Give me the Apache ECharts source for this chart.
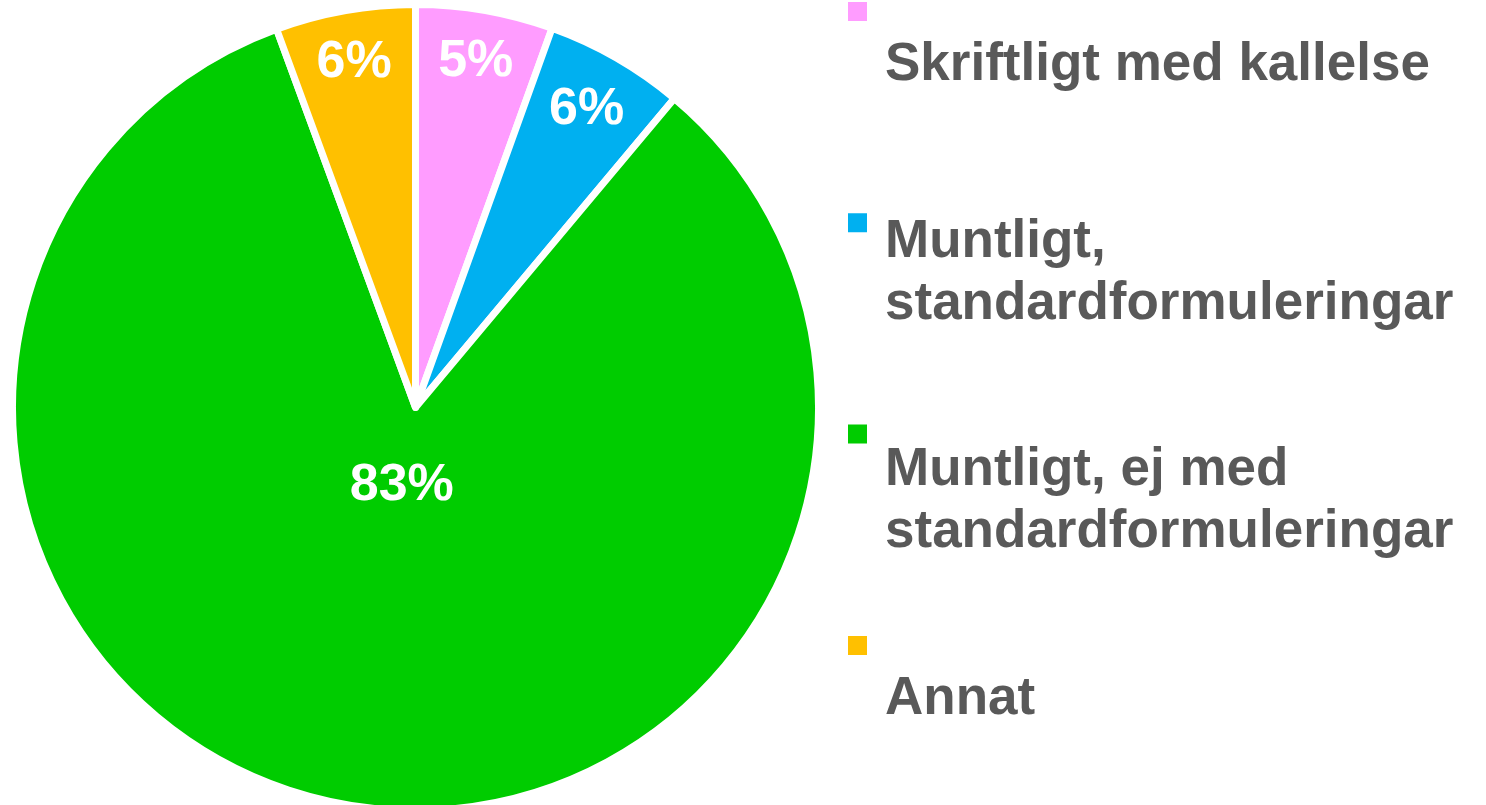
<!DOCTYPE html>
<html lang="sv">
<head>
    <meta charset="UTF-8">
    <title>Pie</title>
    <script src="https://cdn.jsdelivr.net/npm/echarts@6/dist/echarts.min.js"></script>
    <style>
        *{
            margin: 0;
            padding: 0;
        }
        html,body{
            width: 100%;
            height: 100%;
            background: #fff;
        }
        .main{
            width: 1486px;
            height: 805px;
        }
    </style>
</head>
<body>
<div class="main"></div>
<script>
    // data (share of answers, %)
    let categories = ['Skriftligt med kallelse', 'Muntligt, standardformuleringar', 'Muntligt, ej med standardformuleringar', 'Annat'];
    let values = [5.5, 5.6, 83.3, 5.6];
    let colors = ['#ff9cff', '#00b0f0', '#00cc00', '#ffc000'];

    // styling only: where each % label sits (fraction of radius), legend text drop
    let labelRadius = [0.8625, 0.845, 0.19, 0.8625];
    let legendSpacer = [74, 80, 47, 74];

    let main = echarts.init(document.getElementsByClassName('main')[0]);

    let R = 403;
    let total = values.reduce((a, b) => a + b, 0);
    let acc = 0;
    let pieData = categories.map((name, i) => {
        let mid = (acc + values[i] / 2) / total * Math.PI * 2;
        acc += values[i];
        let s = (labelRadius[i] - 0.5) * R;
        return {
            name,
            value: values[i],
            itemStyle: {color: colors[i]},
            label: {offset: [s * Math.sin(mid), -s * Math.cos(mid)]}
        };
    });

    // marker sits at the top of a tall (empty) icon box so the text hangs below it
    let markerIcon = 'path://M0,0h0M0,50h19v19h-19zM0,300h0';
    let rich = {
        t: {
            fontFamily: '"Liberation Sans", Arial, sans-serif',
            fontSize: 53,
            fontWeight: 'bold',
            color: '#595959',
            lineHeight: 62
        }
    };
    legendSpacer.forEach((h, i) => {
        rich['s' + i] = {fontSize: 2, lineHeight: h};
    });
    let legendText = name => {
        let i = categories.indexOf(name);
        let lines = name.replace(' standard', '\nstandard').split('\n');
        return lines.map(l => '{t|' + l + '}').join('\n') + '\n{s' + i + '| }';
    };

    let option = {
        animation: false,
        legend: {
            orient: 'vertical',
            left: 848,
            top: -48,
            height: 1300,
            padding: 0,
            itemWidth: 19,
            itemHeight: 300,
            itemGap: -88.7,
            icon: markerIcon,
            itemStyle: {borderWidth: 0},
            selectedMode: false,
            data: categories,
            formatter: legendText,
            textStyle: {
                padding: [0, 0, 0, 13],
                rich
            }
        },
        series: [{
            type: 'pie',
            center: [415.5, 407.5],
            radius: [0, R],
            startAngle: 90,
            clockwise: true,
            avoidLabelOverlap: false,
            percentPrecision: 0,
            itemStyle: {
                borderColor: '#fff',
                borderWidth: 7
            },
            label: {
                show: true,
                position: 'inside',
                formatter: '{d}%',
                color: '#fff',
                fontFamily: '"Liberation Sans", Arial, sans-serif',
                fontSize: 52,
                fontWeight: 'bold'
            },
            labelLine: {show: false},
            emphasis: {disabled: true},
            data: pieData
        }]
    };
    main.setOption(option);
</script>
</body>
</html>
